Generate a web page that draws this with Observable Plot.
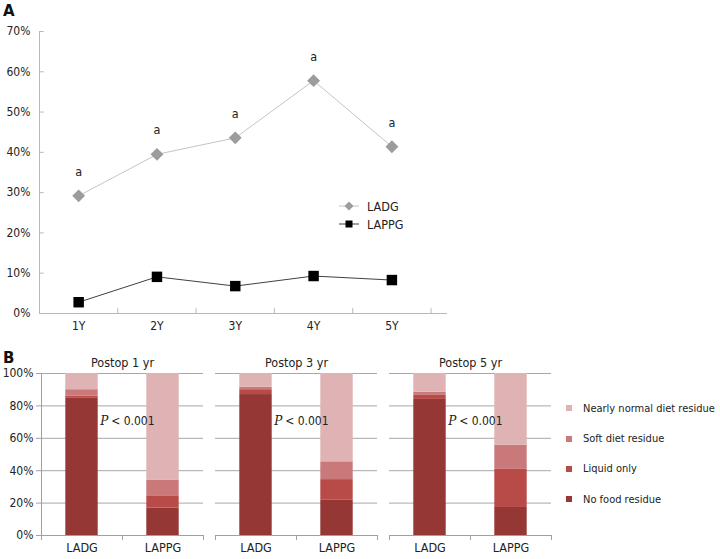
<!DOCTYPE html>
<html><head><meta charset="utf-8">
<script src="https://cdn.jsdelivr.net/npm/d3@7"></script>
<script src="https://cdn.jsdelivr.net/npm/@observablehq/plot@0.6"></script>
<style>
body{margin:0;background:#fff;}
#root{position:relative;width:720px;height:559px;font-family:"DejaVu Sans Condensed","DejaVu Sans",sans-serif;font-size:11px;color:#222;overflow:hidden;background:#fff}
.abs{position:absolute}
.panel{font-family:"DejaVu Sans",sans-serif;font-weight:bold;font-size:15px;color:#111}
.leg{display:flex;align-items:center;height:14px;white-space:nowrap}
</style></head><body><div id="root"></div>
<script>
// ---- Panel A data ----
const years = ["1Y","2Y","3Y","4Y","5Y"];
const seriesNames = ["LADG","LAPPG"];
const ladg = [29.2, 39.5, 43.6, 57.8, 41.4];
const lappg = [2.8, 9.1, 6.8, 9.3, 8.3];
const sigLabels = ["a","a","a","a","a"];
const yTicksA = [0,10,20,30,40,50,60,70];

// ---- Panel B data ----
const periods = ["Postop 1 yr","Postop 3 yr","Postop 5 yr"];
const groups = ["LADG","LAPPG"];
const residue = ["No food residue","Liquid only","Soft diet residue","Nearly normal diet residue"];
const residueColors = ["#953735","#b84a48","#c97979","#dfb3b3"];
// [period][group]
const noFood = [[85,17],[87,22],[84,17.3]];
const liquid = [[1,7.5],[3,12.5],[2.5,23.5]];
const soft   = [[4,9.5],[1.5,11],[2,15]];
const normal = [[10,66],[8.5,54.5],[11.5,44.2]];
const pValueText = ["< 0.001","< 0.001","< 0.001"];
const yTicksB = [0,20,40,60,80,100];

const FONT = '"DejaVu Sans Condensed","DejaVu Sans",sans-serif';
const root = document.getElementById("root");

// ---------- Panel A ----------
const rowsL = years.map((y,i)=>({x:i+1, v:ladg[i], t:sigLabels[i]}));
const rowsP = years.map((y,i)=>({x:i+1, v:lappg[i]}));
const chartA = Plot.plot({
  width: 460, height: 338,
  marginTop: 31, marginBottom: 25, marginLeft: 39, marginRight: 13,
  style: {fontFamily: FONT, fontSize: "12px", color: "#222", background: "transparent", overflow: "visible"},
  x: {domain: [0.5, 5.71]},
  y: {domain: [0, 70]},
  marks: [
    Plot.ruleX([0.5], {stroke: "#b8b8b8"}),
    Plot.ruleY([0], {stroke: "#b8b8b8"}),
    Plot.ruleY(yTicksA, {x1: 0.5, x2: 0.56, stroke: "#b8b8b8"}),
    Plot.ruleX([1.5,2.5,3.5,4.5,5.5], {y1: 0, y2: 1.2, stroke: "#b8b8b8"}),
    Plot.axisY({ticks: yTicksA, tickSize: 0, tickPadding: 9, tickFormat: d => d + "%", label: null, fill: "#222", fontSize: 12}),
    Plot.axisX({ticks: [1,2,3,4,5], tickSize: 0, tickPadding: 8, tickFormat: i => years[i-1], label: null, fill: "#222", fontSize: 12}),
    Plot.line(rowsL, {x: "x", y: "v", stroke: "#c4c4c4", strokeWidth: 1}),
    Plot.line(rowsP, {x: "x", y: "v", stroke: "#404040", strokeWidth: 1}),
    Plot.dot(rowsL, {x: "x", y: "v", symbol: "diamond2", r: 5.8, fill: "#9c9c9c", stroke: "none"}),
    Plot.dot(rowsP, {x: "x", y: "v", symbol: "square", r: 5.9, fill: "#000", stroke: "none"}),
    Plot.text(rowsL, {x: "x", y: "v", text: "t", dy: -24, fontSize: 12.5, fill: "#222"})
  ]
});
chartA.style.position = "absolute"; chartA.style.left = "0px"; chartA.style.top = "0px";
root.appendChild(chartA);

// Legend A
const legA = document.createElement("div");
legA.className = "abs"; legA.style.left = "339px"; legA.style.top = "197px";
legA.innerHTML = seriesNames.map((s,i) => `<div class="leg" style="height:18px">
  <svg width="22" height="14" style="margin-right:6px">
    <line x1="0" x2="20" y1="7" y2="7" stroke="${i? '#404040':'#c4c4c4'}"/>
    ${i ? '<rect x="6.5" y="3.5" width="7" height="7" fill="#000"/>' : '<path d="M10 2.5 L14.5 7 L10 11.5 L5.5 7 Z" fill="#9c9c9c"/>'}
  </svg><span style="font-size:12.5px">${s}</span></div>`).join("");
root.appendChild(legA);

// ---------- Panel B ----------
const series = [noFood, liquid, soft, normal];
const rowsB = [];
periods.forEach((p, pi) => groups.forEach((g, gi) => {
  let base = 0;
  residue.forEach((r, ri) => {
    const v = series[ri][pi][gi];
    rowsB.push({period: p, gx: gi + 1, group: g, residue: r, y1: base, y2: base + v});
    base += v;
  });
}));
const pRows = periods.map((p, i) => ({period: p, t: pValueText[i]}));

const chartB = Plot.plot({
  width: 560, height: 214,
  marginTop: 28, marginBottom: 24, marginLeft: 41, marginRight: 9,
  style: {fontFamily: FONT, fontSize: "12px", color: "#222", background: "transparent", overflow: "visible"},
  fx: {domain: periods, paddingInner: 0.069, paddingOuter: 0, label: null},
  x: {domain: [0.5, 2.5]},
  y: {domain: [0, 100]},
  color: {domain: residue, range: residueColors},
  marks: [
    Plot.ruleY([20,40,60,80,100], {stroke: "#a8a8a8"}),
    Plot.rectY(rowsB, {fx: "period", x1: d => d.gx - 0.2, x2: d => d.gx + 0.2, y1: "y1", y2: "y2", fill: "residue"}),
    Plot.ruleY([0], {stroke: "#a0a0a0"}),
    Plot.ruleX([0.5, 1.5, 2.5], {y1: 0, y2: -3, stroke: "#a0a0a0"}),
    Plot.frame({anchor: "left", stroke: "#a0a0a0", fx: [periods[0]]}),
    Plot.axisY({ticks: yTicksB, tickSize: 5, tickPadding: 3, tickFormat: d => d + "%", label: null, stroke: "#a0a0a0", fill: "#222", fontSize: 12}),
    Plot.axisX({ticks: [1, 2], tickSize: 0, tickPadding: 8, tickFormat: i => groups[i-1], label: null, fill: "#222", fontSize: 12.5}),
    Plot.axisFx({anchor: "top", tickSize: 0, tickPadding: 7, label: null, fill: "#222", fontSize: 12.5}),
    Plot.text(pRows, {fx: "period", x: 1.2, y: 70.7, text: () => "P", fontStyle: "italic", textAnchor: "start", dx: 2, fontSize: 12, fill: "#222", fontFamily: "DejaVu Serif"}),
    Plot.text(pRows, {fx: "period", x: 1.2, y: 70.7, text: "t", textAnchor: "start", dx: 13, fontSize: 12, fill: "#222"})
  ]
});
chartB.style.position = "absolute"; chartB.style.left = "0px"; chartB.style.top = "345px";
root.appendChild(chartB);

// Legend B (top to bottom: reverse stacking order)
const legB = document.createElement("div");
legB.className = "abs"; legB.style.left = "566px"; legB.style.top = "393px";
legB.innerHTML = residue.map((r, i) => ({r, c: residueColors[i]})).reverse().map(o =>
  `<div class="leg" style="height:30.4px"><span style="display:inline-block;width:6px;height:6px;background:${o.c};margin-right:11px"></span><span style="font-size:11px">${o.r}</span></div>`
).join("");
root.appendChild(legB);

// Panel letters
const la = document.createElement("div"); la.className = "abs panel"; la.style.left = "3px"; la.style.top = "2px"; la.textContent = "A"; root.appendChild(la);
const lb = document.createElement("div"); lb.className = "abs panel"; lb.style.left = "3px"; lb.style.top = "349px"; lb.textContent = "B"; root.appendChild(lb);
</script></body></html>
